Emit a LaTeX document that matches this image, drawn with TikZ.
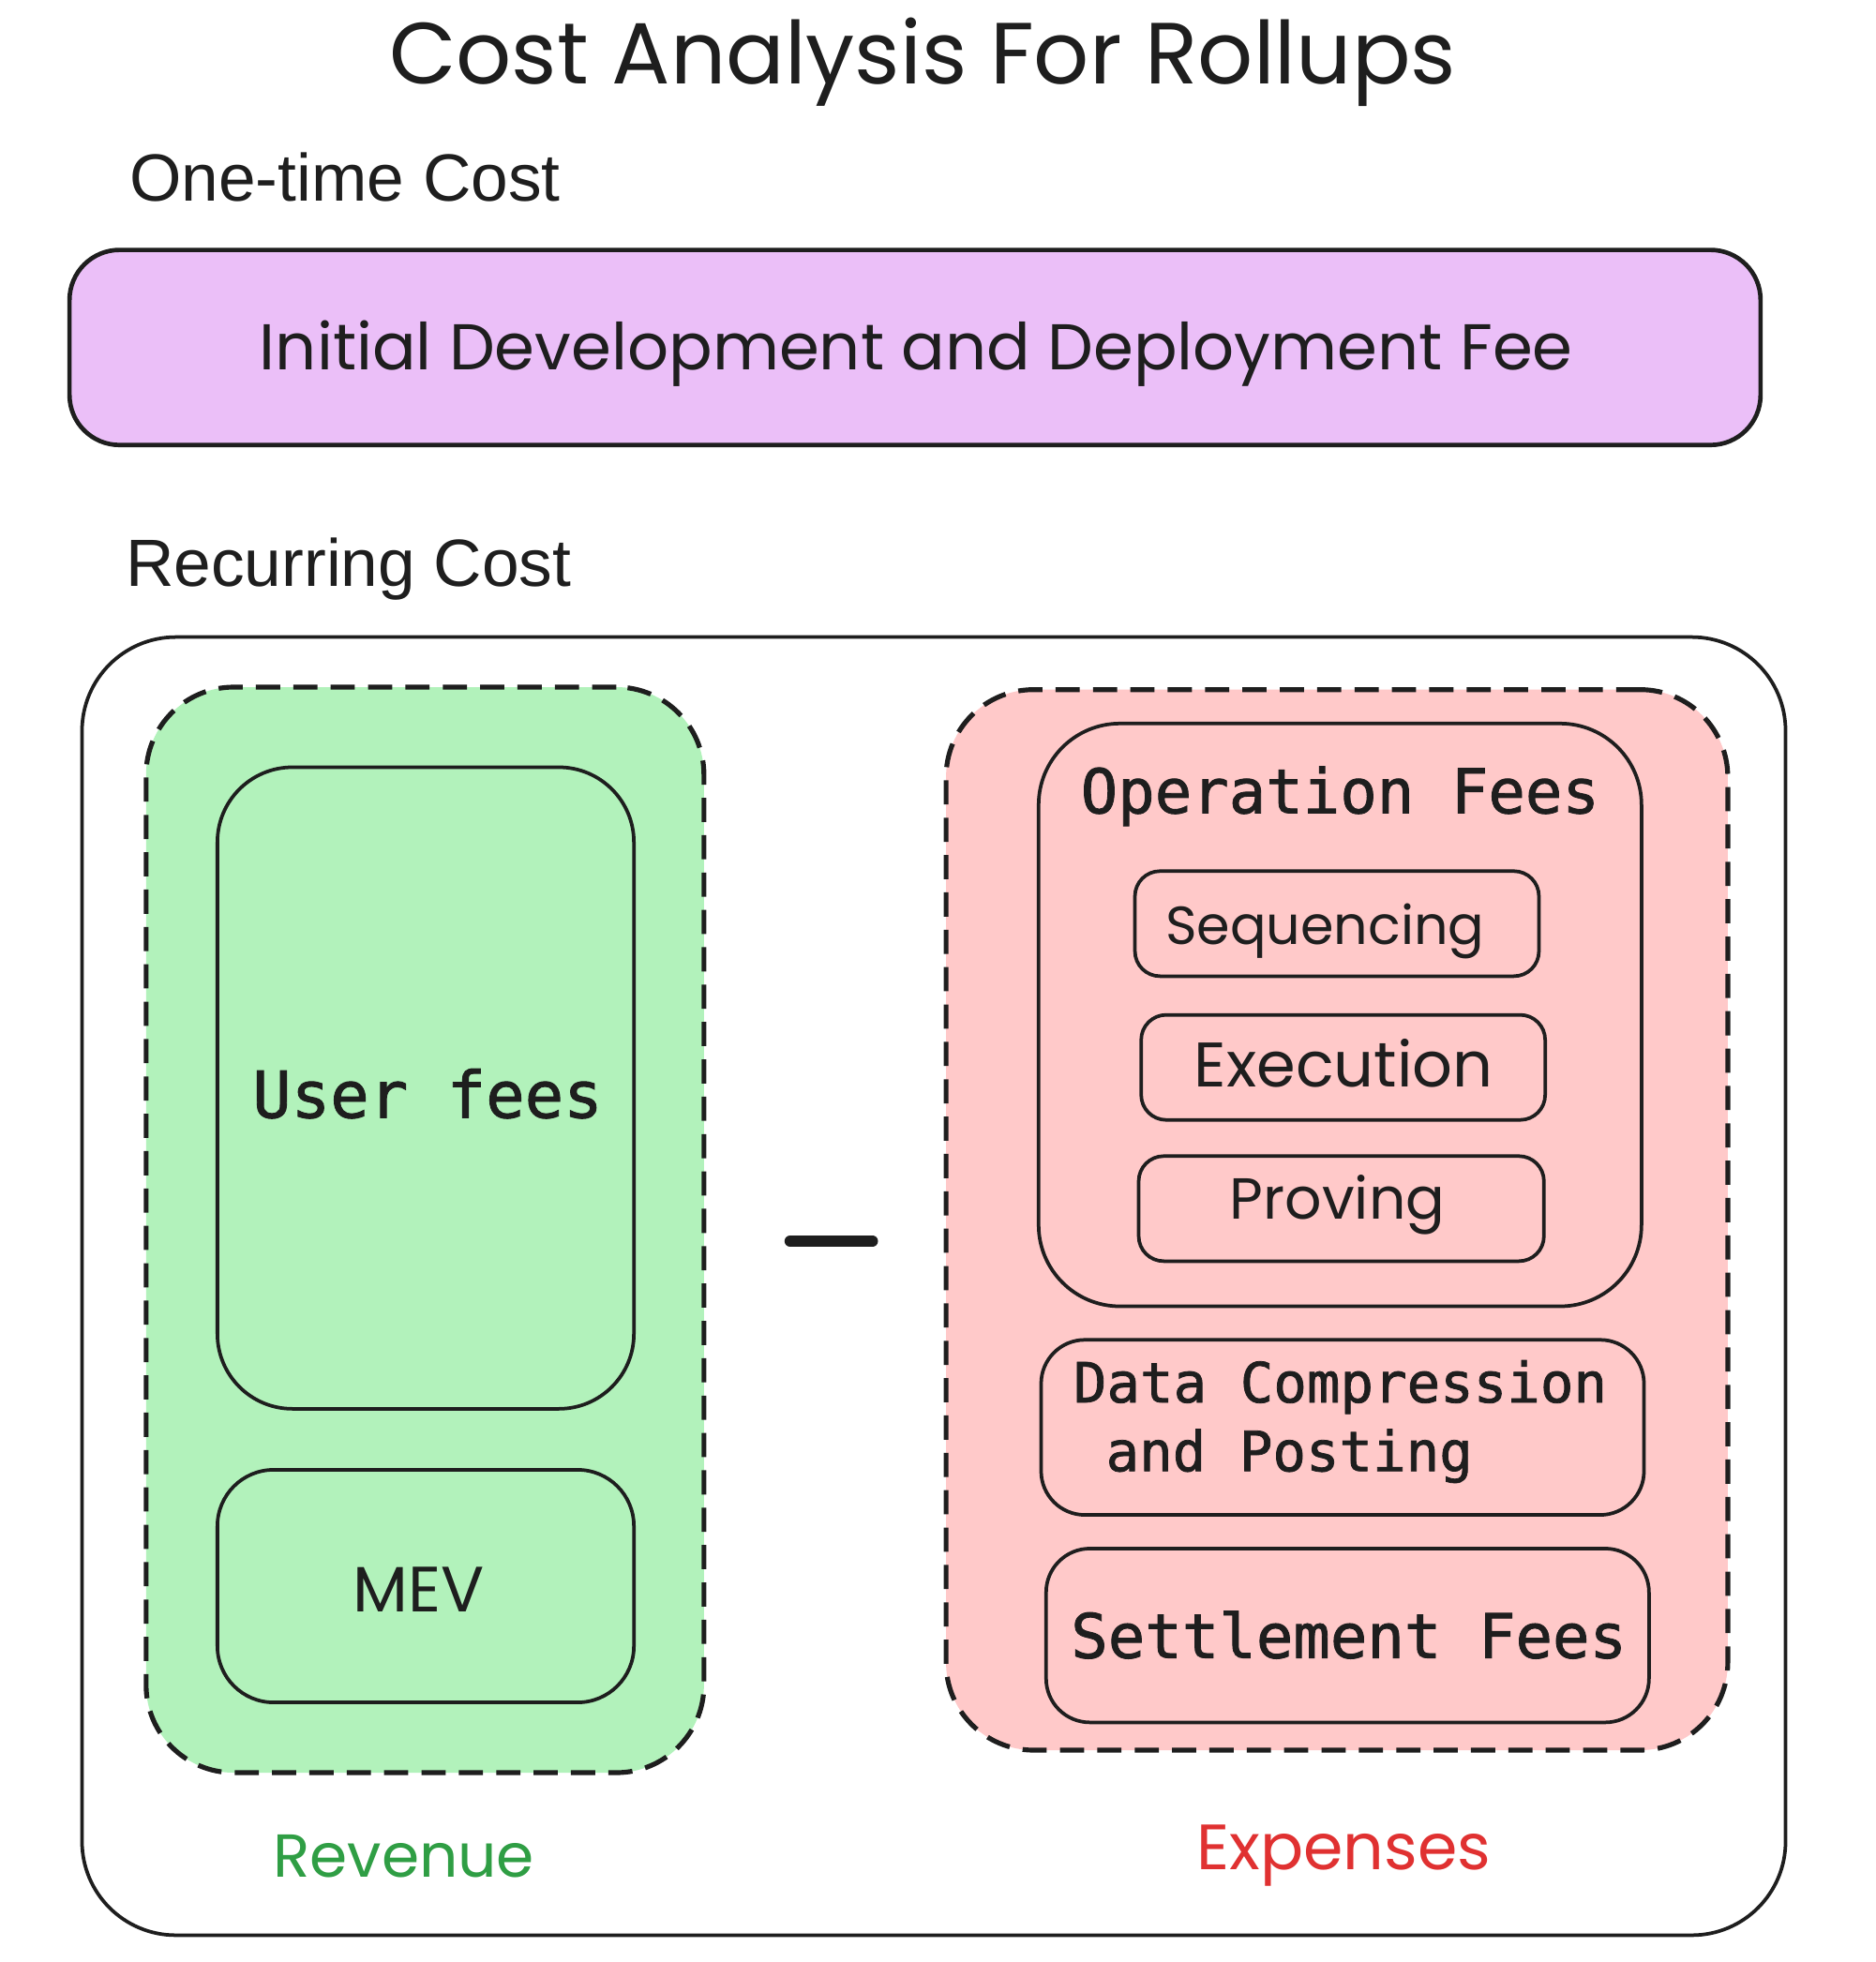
\documentclass[tikz,border=0pt]{standalone}
\usepackage{fontspec}
\usepackage{graphicx}
\setmainfont{Liberation Sans}
\newfontfamily\hwfont{Poppins}
\newfontfamily\monofont[FakeBold=1.3]{DejaVu Sans Mono}
\newcommand{\hwbox}[2]{\resizebox{#1}{!}{\hwfont #2}}
\definecolor{ink}{HTML}{1E1E1E}
\definecolor{violetfill}{HTML}{EBBFF8}
\definecolor{greenfill}{HTML}{B2F2BB}
\definecolor{redfill}{HTML}{FFC9C9}
\definecolor{revgreen}{HTML}{2F9E44}
\definecolor{expred}{HTML}{E03131}
\tikzset{
  box/.style={draw=ink, line width=0.8pt, rectangle, inner sep=0pt},
  dashbox/.style={draw=ink, line width=1.1pt, rectangle, inner sep=0pt, dash pattern=on 5.5pt off 3pt},
  mono/.style={text=ink, font=\monofont, inner sep=0pt},
  hw/.style={text=ink, inner sep=0pt},
  label/.style={text=ink, font=\fontsize{15.2}{18}\selectfont, inner sep=0pt},
}
\begin{document}
\begin{tikzpicture}[x=0.01cm, y=-0.01cm]
\useasboundingbox[fill=white] (0,0) rectangle (1500,1569.75);
% title
\node[hw] (title) at (738,50) {\hwbox{8.53cm}{Cost Analysis For Rollups}};
\node[label, anchor=base west] (onetime) at (103,161) {One-time Cost};
% one-time box
\node[box, fill=violetfill, line width=1pt, rounded corners=0.4cm, minimum width=13.52cm, minimum height=1.56cm] (initbox) at (732,278) {};
\node[hw] (inittext) at (733,283) {\hwbox{10.5cm}{Initial Development and Deployment Fee}};
\node[label, anchor=base west] (recurring) at (100,469) {Recurring Cost};
% outer recurring box
\node[box, rounded corners=0.75cm, minimum width=13.62cm, minimum height=10.38cm] (outer) at (747,1029) {};
% revenue group
\node[dashbox, fill=greenfill, rounded corners=0.7cm, minimum width=4.46cm, minimum height=8.68cm] (revgroup) at (340,984) {};
\node[box, rounded corners=0.6cm, minimum width=3.33cm, minimum height=5.13cm] (userbox) at (340.5,870.5) {};
\node[mono, font=\monofont\fontsize{14.7}{17}\selectfont] (usertext) at (342,875) {User fees};
\node[box, rounded corners=0.45cm, minimum width=3.33cm, minimum height=1.86cm] (mevbox) at (340.5,1269) {};
\node[hw] (mevtext) at (335,1272) {\hwbox{1.05cm}{MEV}};
\node[hw] (revenue) at (323,1485) {\hwbox{2.09cm}{\color{revgreen}Revenue}};
% minus
\coordinate (m1) at (632,993);
\coordinate (m2) at (698,993);
\draw[ink, line width=2.5pt, line cap=round] (m1) -- (m2);
% expenses group
\node[dashbox, fill=redfill, rounded corners=0.7cm, minimum width=6.25cm, minimum height=8.48cm] (expgroup) at (1069.5,976) {};
\node[box, rounded corners=0.65cm, minimum width=4.82cm, minimum height=4.66cm] (opbox) at (1072,812) {};
\node[mono, font=\monofont\fontsize{14}{17}\selectfont] (optext) at (1072,637) {Operation Fees};
\node[box, rounded corners=0.2cm, minimum width=3.23cm, minimum height=0.84cm] (seqbox) at (1069.5,739) {};
\node[hw] (seqtext) at (1060,745) {\hwbox{2.55cm}{Sequencing}};
\node[box, rounded corners=0.2cm, minimum width=3.23cm, minimum height=0.84cm] (execbox) at (1074.5,854) {};
\node[hw] (exectext) at (1075,851) {\hwbox{2.39cm}{Execution}};
\node[box, rounded corners=0.2cm, minimum width=3.24cm, minimum height=0.84cm] (provbox) at (1073,967) {};
\node[hw] (provtext) at (1070,964) {\hwbox{1.72cm}{Proving}};
\node[box, rounded corners=0.35cm, minimum width=4.82cm, minimum height=1.40cm] (databox) at (1074,1142) {};
\node[mono, font=\monofont\fontsize{12.6}{15}\selectfont, anchor=base west] (datatext1) at (858,1122) {Data Compression};
\node[mono, font=\monofont\fontsize{12.6}{15}\selectfont, anchor=base west] (datatext2) at (884,1177) {and Posting};
\node[box, rounded corners=0.35cm, minimum width=4.82cm, minimum height=1.39cm] (setbox) at (1078,1308.5) {};
\node[mono, font=\monofont\fontsize{14}{17}\selectfont] (settext) at (1079,1308) {Settlement Fees};
\node[hw] (expenses) at (1075,1485) {\hwbox{2.35cm}{\color{expred}Expenses}};
\end{tikzpicture}
\end{document}
